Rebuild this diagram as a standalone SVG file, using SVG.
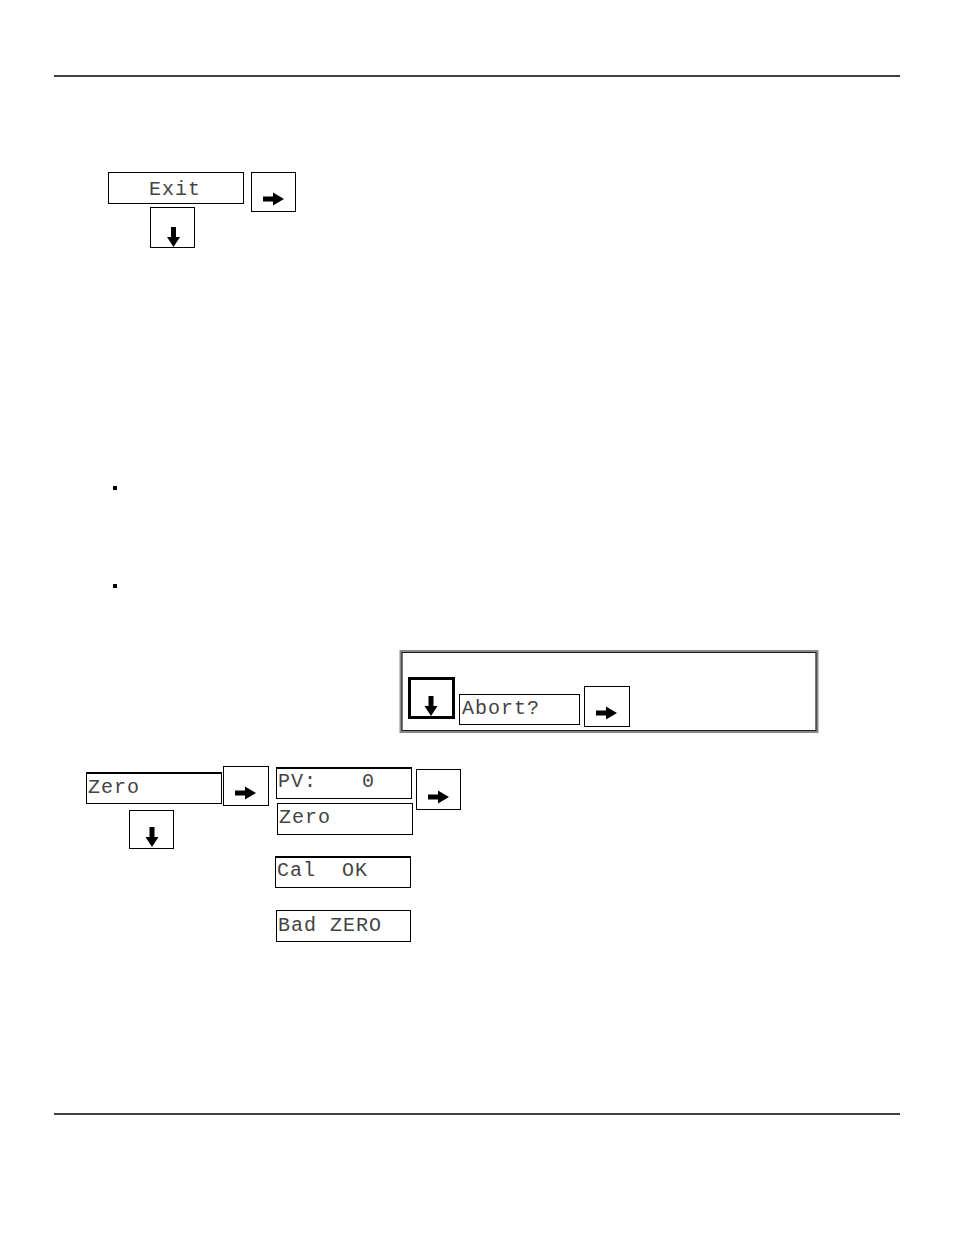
<svg xmlns="http://www.w3.org/2000/svg" width="954" height="1235" viewBox="0 0 954 1235">
<style>
.box{fill:#fff;stroke:#000;stroke-width:1}
.lcd{font-family:"Liberation Mono","DejaVu Sans Mono",monospace;font-size:20px;letter-spacing:1px;fill:#444}
.rule{stroke:#000;stroke-width:1.5}
</style>
<defs>
<path id="ra" d="M-10,-2.5 H0 V-6.5 L11,0 L0,6.5 V2.5 H-10 Z" fill="#000"/>
<path id="da" d="M-2.5,-10 V0 H-6.5 L0,10 L6.5,0 H2.5 V-10 Z" fill="#000"/>
</defs>
<rect width="954" height="1235" fill="#fff"/>
<line class="rule" x1="54" y1="76" x2="900" y2="76"/>
<line class="rule" x1="54" y1="1114" x2="900" y2="1114"/>

<g id="exit"><rect class="box" x="108.5" y="172.5" width="135" height="31"/><text class="lcd" x="149" y="195">Exit</text></g>
<g id="exit-right"><rect class="box" x="251.5" y="172.5" width="44" height="39"/><use href="#ra" x="273" y="199"/></g>
<g id="exit-down"><rect class="box" x="150.5" y="207.5" width="44" height="40"/><use href="#da" x="173.5" y="237"/></g>

<g id="bullets"><rect x="113" y="486" width="4" height="4" fill="#000"/><rect x="113" y="584" width="4" height="4" fill="#000"/></g>

<g id="abort-panel">
<rect x="401" y="651.5" width="416" height="80" fill="#fff" stroke="#888" stroke-width="3"/>
<rect x="402" y="652.5" width="414" height="78" fill="none" stroke="#000" stroke-width="0.8"/>
</g>
<g id="abort-down"><rect x="409.5" y="678.5" width="44" height="39" fill="#fff" stroke="#000" stroke-width="3"/><use href="#da" x="431" y="706"/></g>
<g id="abort"><rect class="box" x="459.5" y="694.5" width="120" height="30"/><text class="lcd" x="462" y="714">Abort?</text></g>
<g id="abort-right"><rect class="box" x="584.5" y="686.5" width="45" height="40"/><use href="#ra" x="606" y="713"/></g>

<g id="zero"><rect class="box" x="86.5" y="772.5" width="135" height="31"/><line x1="86" y1="773" x2="222" y2="773" stroke="#000" stroke-width="2"/><text class="lcd" x="88" y="793">Zero</text></g>
<g id="zero-right"><rect class="box" x="223.5" y="766.5" width="45" height="39"/><use href="#ra" x="245" y="793"/></g>
<g id="zero-down"><rect class="box" x="129.5" y="810.5" width="44" height="38"/><use href="#da" x="152" y="837"/></g>

<g id="pv"><rect class="box" x="276.5" y="767.5" width="135" height="31"/><line x1="276" y1="768" x2="412" y2="768" stroke="#000" stroke-width="2"/><text class="lcd" x="278" y="787">PV:<tspan x="362">0</tspan></text></g>
<g id="zero2"><rect class="box" x="277.5" y="803.5" width="135" height="31"/><text class="lcd" x="279" y="823">Zero</text></g>
<g id="pv-right"><rect class="box" x="416.5" y="769.5" width="44" height="40"/><use href="#ra" x="438" y="797"/></g>

<g id="calok"><rect class="box" x="275.5" y="856.5" width="135" height="31"/><line x1="275" y1="857" x2="411" y2="857" stroke="#000" stroke-width="2"/><text class="lcd" x="277" y="876" xml:space="preserve">Cal  OK</text></g>
<g id="badzero"><rect class="box" x="276.5" y="910.5" width="134" height="31"/><text class="lcd" x="278" y="931">Bad ZERO</text></g>
</svg>
